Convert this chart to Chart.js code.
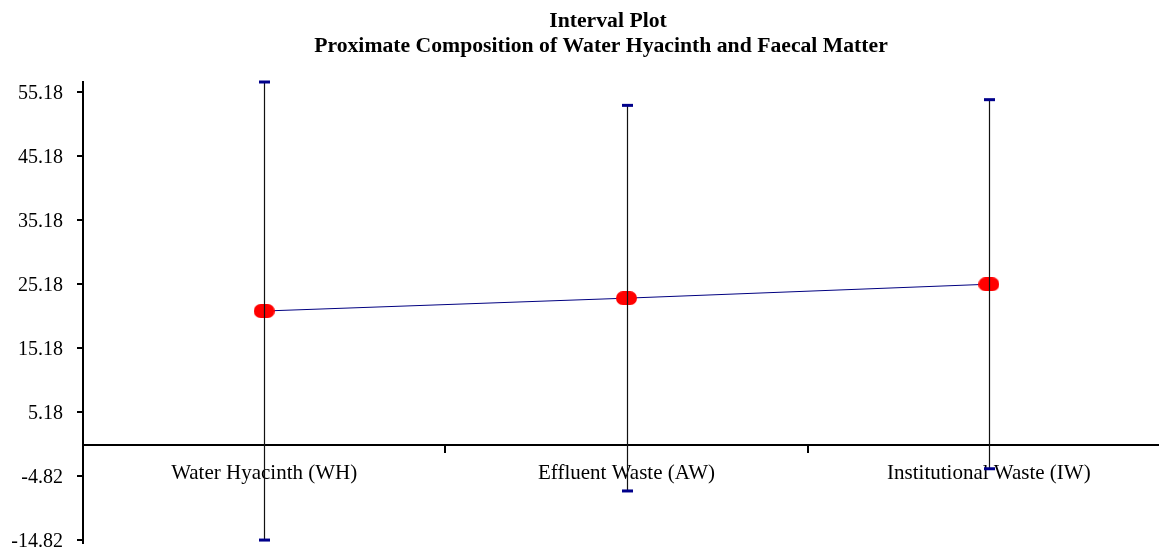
<!DOCTYPE html>
<html>
<head>
<meta charset="utf-8">
<script src="https://cdn.jsdelivr.net/npm/chart.js@4"></script>
<style>
  html, body { margin: 0; padding: 0; background: #fff; overflow: hidden; }
  canvas { display: block; }
</style>
</head>
<body>
<canvas id="intervalChart" width="1170" height="549"></canvas>
<script>
// Chart data
const categories = ['Water Hyacinth (WH)', 'Effluent Waste (AW)', 'Institutional Waste (IW)'];
const means = [20.94, 22.95, 25.13];
const halfIntervals = [35.78, 30.12, 28.83];
const yTicks = [-14.82, -4.82, 5.18, 15.18, 25.18, 35.18, 45.18, 55.18];
const titleLines = ['Interval Plot', 'Proximate Composition of Water Hyacinth and Faecal Matter'];

const serif = '"Liberation Serif", "Times New Roman", serif';

// Red rounded marker used as point style
function makeMarker() {
    const c = document.createElement('canvas');
    c.width = 21;
    c.height = 14;
    const g = c.getContext('2d');
    g.fillStyle = '#ff0000';
    g.beginPath();
    g.roundRect(0, 0, 21, 14, 7);
    g.fill();
    return c;
}

// Draws the interval bars over the points
const intervalBars = {
    id: 'intervalBars',
    afterDatasetsDraw(chart) {
        const { ctx, scales: { x, y } } = chart;
        ctx.save();
        means.forEach((m, i) => {
            const px = Math.round(x.getPixelForValue(i)) + 0.5;
            const top = y.getPixelForValue(m + halfIntervals[i]);
            const bottom = y.getPixelForValue(m - halfIntervals[i]);
            ctx.strokeStyle = '#111';
            ctx.lineWidth = 1.2;
            ctx.beginPath();
            ctx.moveTo(px, top);
            ctx.lineTo(px, bottom);
            ctx.stroke();
            ctx.fillStyle = '#00008b';
            ctx.fillRect(px - 5.5, top - 1.5, 11, 3);
            ctx.fillRect(px - 5.5, bottom - 1.5, 11, 3);
        });
        ctx.restore();
    }
};

// Two line title
const titleText = {
    id: 'titleText',
    afterDraw(chart) {
        const ctx = chart.ctx;
        ctx.save();
        ctx.fillStyle = '#000';
        ctx.font = 'bold 21.7px ' + serif;
        ctx.textAlign = 'center';
        ctx.textBaseline = 'middle';
        ctx.fillText(titleLines[0], 608, 21);
        ctx.fillText(titleLines[1], 601, 46);
        ctx.restore();
    }
};

new Chart(document.getElementById('intervalChart'), {
    type: 'line',
    data: {
        labels: categories,
        datasets: [{
            label: 'Mean',
            data: means,
            borderColor: '#000080',
            borderWidth: 1,
            tension: 0,
            fill: false,
            pointStyle: makeMarker(),
            pointRadius: 10
        }]
    },
    options: {
        responsive: false,
        animation: false,
        layout: { autoPadding: false, padding: { top: 82, left: 0, right: 0, bottom: 6 } },
        plugins: {
            legend: { display: false },
            title: { display: false },
            tooltip: { enabled: false }
        },
        scales: {
            x: {
                type: 'category',
                offset: true,
                position: { y: 0 },
                border: { display: true, color: '#000', width: 2 },
                grid: {
                    offset: true,
                    drawOnChartArea: false,
                    drawTicks: true,
                    tickLength: 7,
                    color: '#000',
                    lineWidth: 2
                },
                afterFit(scale) {
                    scale.paddingLeft = 0;
                    scale.paddingRight = 0;
                    scale.paddingTop = 0;
                    scale.paddingBottom = 0;
                },
                ticks: {
                    color: '#000',
                    padding: 9,
                    autoSkip: false,
                    maxRotation: 0,
                    font: { family: serif, size: 21 }
                }
            },
            y: {
                min: -15.3,
                max: 56.72,
                border: { display: true, color: '#000', width: 2 },
                grid: {
                    drawOnChartArea: false,
                    drawTicks: true,
                    tickLength: 6,
                    color: '#000',
                    lineWidth: 2
                },
                afterBuildTicks(scale) {
                    scale.ticks = yTicks.map(v => ({ value: v }));
                },
                afterFit(scale) {
                    scale.width = 83;
                    scale.paddingTop = 0;
                    scale.paddingBottom = 0;
                },
                ticks: {
                    color: '#000',
                    padding: 14,
                    labelOffset: 2,
                    font: { family: serif, size: 20 },
                    callback: v => Number(v).toFixed(2)
                }
            }
        }
    },
    plugins: [intervalBars, titleText]
});
</script>
</body>
</html>
